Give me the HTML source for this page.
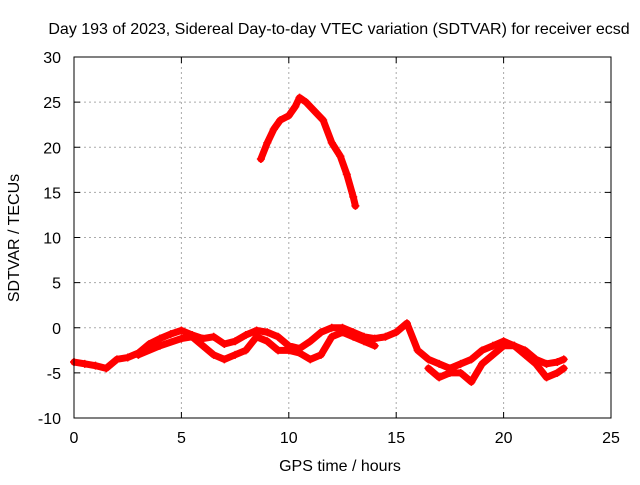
<!DOCTYPE html>
<html><head><meta charset="utf-8"><style>
body{margin:0;background:#fff;}
svg{font-family:"Liberation Sans",sans-serif;}
</style></head><body>
<svg id="c" width="640" height="480">
<text x="339" y="34" font-size="16" text-anchor="middle">Day 193 of 2023, Sidereal Day-to-day VTEC variation (SDTVAR) for receiver ecsd</text>
<text x="340" y="471" font-size="16" text-anchor="middle">GPS time / hours</text>
<text transform="translate(19,238) rotate(-90)" font-size="16" text-anchor="middle">SDTVAR / TECUs</text>
<g id="grid"></g><g id="marks"></g>
<rect x="74" y="57" width="537" height="361" fill="none" stroke="#000"/>
</svg>
<script>
const xTicks=[0,5,10,15,20,25];
const yTicks=[-10,-5,0,5,10,15,20,25,30];
const hoursA=[0,0.5,1,1.5,2,2.5,3,3.5,4,4.5,5,5.5,6,6.5,7,7.5,8,8.5,9,9.5,10,10.5,11,11.5,12,12.5,13,13.5,14,14.5,15,15.5,16,16.5,17,17.5,18,18.5,19,19.5,20,20.5,21,21.5,22,22.5,22.8];
const valsA=[-3.8,-4,-4.2,-4.5,-3.5,-3.3,-2.8,-1.8,-1.2,-0.7,-0.3,-0.8,-1.2,-1,-1.8,-1.5,-0.8,-0.3,-0.5,-1,-2,-2.3,-1.5,-0.5,0,0,-0.5,-1,-1.2,-1,-0.5,0.5,-2.5,-3.5,-4,-4.5,-4,-3.5,-2.5,-2,-1.5,-2,-2.5,-3.5,-4,-3.8,-3.5];
const hoursB=[3,4,5,5.5,6,6.5,7,7.5,8,8.5,9,9.5,10,10.5,11,11.5,12,12.5,13,13.5,14];
const valsB=[-3,-2,-1.2,-1,-2,-3,-3.5,-3,-2.5,-1,-1.5,-2.5,-2.5,-2.8,-3.5,-3,-1,-0.5,-1,-1.5,-2];
const hoursC=[16.5,17,17.5,18,18.5,19,19.5,20,20.5,21,21.5,22,22.5,22.8];
const valsC=[-4.5,-5.5,-5,-5,-6,-4,-3,-2,-2,-3,-4,-5.5,-5,-4.5];
const hoursP=[8.7,9,9.3,9.6,10,10.3,10.5,10.8,11.2,11.6,12,12.4,12.7,13,13.1];
const valsP=[18.7,20.5,22,23,23.5,24.5,25.5,25,24,23,20.5,19,17,14.5,13.5];
const NS='http://www.w3.org/2000/svg';
const X=h=>74+h*537/25, Y=v=>418-(v+10)*361/40;
const grid=document.getElementById('grid'), marks=document.getElementById('marks');
function mk(t,a,p){const e=document.createElementNS(NS,t);for(const k in a)e.setAttribute(k,a[k]);p.appendChild(e);return e;}
xTicks.forEach(t=>{
  if(t>0&&t<25){const l=mk('line',{x1:X(t),x2:X(t),y1:57,y2:418,stroke:'#aaa','stroke-dasharray':'2,3'},grid);
  
  }
  mk('line',{x1:X(t),x2:X(t),y1:418,y2:412,stroke:'#000'},grid);
  mk('line',{x1:X(t),x2:X(t),y1:57,y2:63,stroke:'#000'},grid);
  const tx=mk('text',{x:X(t),y:443,'font-size':16,'text-anchor':'middle'},grid);tx.textContent=t;
  
  
});
yTicks.forEach(t=>{
  if(t>-10&&t<30){const l=mk('line',{x1:74,x2:611,y1:Y(t),y2:Y(t),stroke:'#aaa','stroke-dasharray':'2,3'},grid);
  
  }
  mk('line',{x1:74,x2:80,y1:Y(t),y2:Y(t),stroke:'#000'},grid);
  mk('line',{x1:611,x2:605,y1:Y(t),y2:Y(t),stroke:'#000'},grid);
  const tx=mk('text',{x:61,y:Y(t)+6,'font-size':16,'text-anchor':'end'},grid);tx.textContent=t;
  
  
});
function series(hs,vs,name){
  const pl=mk('polyline',{points:hs.map((h,i)=>X(h)+','+Y(vs[i])).join(' '),fill:'none',stroke:'#f00','stroke-width':7,'stroke-linejoin':'round','stroke-linecap':'round'},marks);
  
  
  hs.forEach((h,i)=>{const x=X(h),y=Y(vs[i]);
    const p=mk('path',{d:`M${x-4},${y}H${x+4}M${x},${y-4}V${y+4}`,stroke:'#f00','stroke-width':1.5},marks);
    
    });
}
series(hoursA,valsA,'sdtvar-main');
series(hoursB,valsB,'sdtvar-lower');
series(hoursC,valsC,'sdtvar-late');
series(hoursP,valsP,'sdtvar-peak');
</script>
</body></html>
